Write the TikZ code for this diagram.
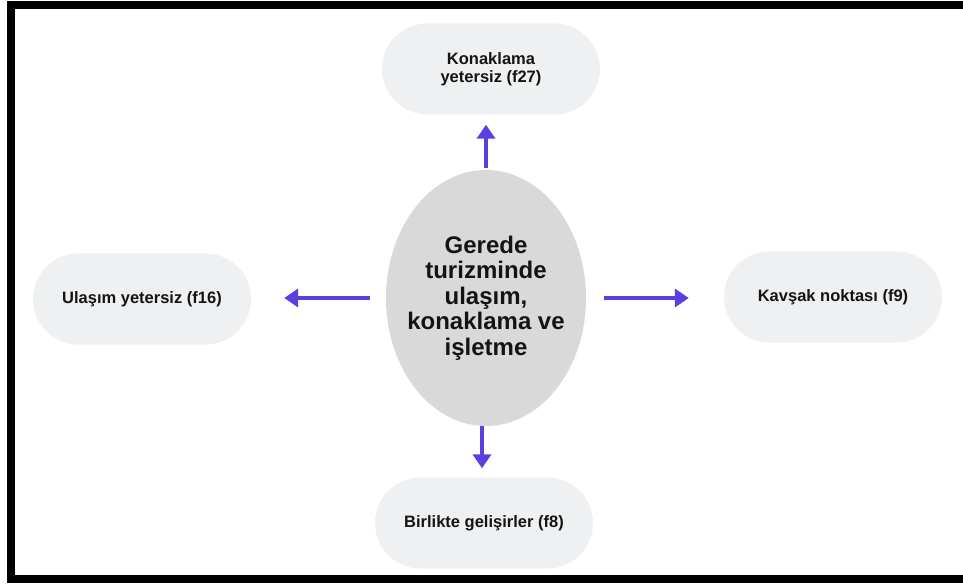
\documentclass[tikz,border=0pt]{standalone}
\usepackage{fontspec}
\setmainfont{Liberation Sans}
\usetikzlibrary{shapes.geometric,shapes.misc,arrows.meta}
\definecolor{pillfill}{HTML}{EEF0F2}
\definecolor{ellfill}{HTML}{D9D9D9}
\definecolor{arrowcol}{HTML}{5B3FE0}
\definecolor{txt}{HTML}{141414}
\begin{document}
\begin{tikzpicture}[x=1pt,y=-1pt,
  pill/.style={rounded rectangle, fill=pillfill, minimum width=218pt, minimum height=91pt, inner sep=0pt, align=center, text=txt, font=\fontsize{16.5}{17.5}\selectfont\bfseries},
  centre/.style={ellipse, fill=ellfill, minimum width=200pt, minimum height=256pt, inner sep=0pt},
  centretext/.style={align=center, inner sep=0pt, text=txt, font=\fontsize{24}{25.5}\selectfont\bfseries},
  conn/.style={draw=arrowcol, line width=4pt, -{Triangle[width=18pt,length=14pt]}}]
\useasboundingbox (0,0) rectangle (963,585);
\fill[white] (0,0) rectangle (963,585);
\draw[line width=8pt, black] (10.5,5) rectangle (975,579);
\node[centre] (c) at (486,298) {};
\node[centretext] (ct) at (c.center) {Gerede\\turizminde\\ulaşım,\\konaklama ve\\işletme};
\node[pill] (top) at (491,69) {Konaklama\\yetersiz (f27)};
\node[pill] (left) at (142,299) {Ulaşım yetersiz (f16)};
\node[pill] (right) at (833,297) {Kavşak noktası (f9)};
\node[pill] (bot) at (484,523) {Birlikte gelişirler (f8)};
\draw[conn, shorten <=2pt, shorten >=10pt] (c.north) -- (c.north |- top.south);
\draw[conn, shorten <=16pt, shorten >=33pt] (c.west) -- (c.west -| left.east);
\draw[conn, shorten <=18pt, shorten >=35pt] (c.east) -- (c.east -| right.west);
\draw[conn, shorten <=0pt, shorten >=9pt] ([xshift=-4pt]c.south) -- ([xshift=-4pt]c.south |- bot.north);
\end{tikzpicture}
\end{document}
